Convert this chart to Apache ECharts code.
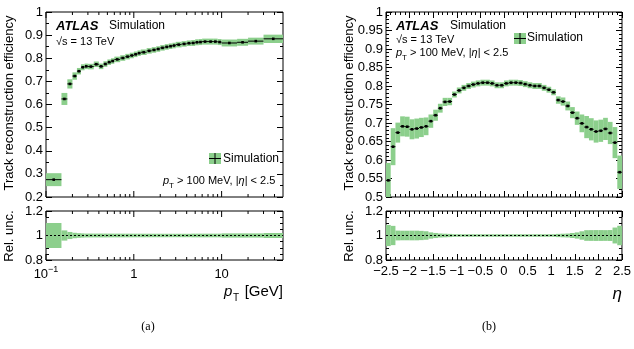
<!DOCTYPE html>
<html>
<head>
<meta charset="utf-8">
<script src="https://cdn.jsdelivr.net/npm/echarts@6/dist/echarts.min.js"></script>
<style>
html, body {margin: 0; padding: 0; background: #fff;}
#main {width: 634px; height: 349px;}
</style>
</head>
<body>
<div id="main"></div>
<script>
// pT binning (GeV) and efficiency
const ptEdges = [0.1, 0.15, 0.175, 0.2, 0.225, 0.25, 0.275, 0.3, 0.35, 0.4, 0.45, 0.5, 0.55, 0.6, 0.7, 0.8, 0.9, 1,
	1.1, 1.2, 1.4, 1.6, 1.8, 2, 2.25, 2.5, 2.75, 3, 3.5, 4, 4.5, 5, 5.5, 6, 7, 8, 9, 10, 15, 20, 30, 50];
const ptEff = [0.275, 0.624, 0.689, 0.723, 0.744, 0.761, 0.765, 0.764, 0.774, 0.765, 0.775, 0.783, 0.788, 0.795,
	0.801, 0.807, 0.812, 0.817, 0.822, 0.826, 0.832, 0.836, 0.840, 0.845, 0.849, 0.852, 0.855, 0.859, 0.862, 0.865,
	0.866, 0.869, 0.870, 0.872, 0.872, 0.872, 0.870, 0.866, 0.869, 0.874, 0.884];
const ptErr = [0.028, 0.026, 0.02, 0.016, 0.014, 0.013, 0.012, 0.012, 0.012, 0.012, 0.012, 0.012, 0.012, 0.012,
	0.012, 0.012, 0.012, 0.012, 0.012, 0.012, 0.012, 0.012, 0.012, 0.012, 0.012, 0.012, 0.012, 0.012, 0.012, 0.012,
	0.013, 0.013, 0.013, 0.013, 0.013, 0.013, 0.013, 0.015, 0.015, 0.015, 0.018];

// eta binning and efficiency
const etaEdges = [-2.5, -2.4, -2.3, -2.2, -2.1, -2, -1.9, -1.8, -1.7, -1.6, -1.5, -1.4, -1.3, -1.2, -1.1, -1,
	-0.9, -0.8, -0.7, -0.6, -0.5, -0.4, -0.3, -0.2, -0.1, 0, 0.1, 0.2, 0.3, 0.4, 0.5, 0.6, 0.7, 0.8, 0.9, 1,
	1.1, 1.2, 1.3, 1.4, 1.5, 1.6, 1.7, 1.8, 1.9, 2, 2.1, 2.2, 2.3, 2.4, 2.5];
const etaEff = [0.545, 0.636, 0.674, 0.691, 0.690, 0.683, 0.685, 0.688, 0.691, 0.705, 0.721, 0.740, 0.757, 0.758,
	0.777, 0.788, 0.795, 0.800, 0.804, 0.807, 0.809, 0.809, 0.807, 0.802, 0.802, 0.807, 0.809, 0.809, 0.808, 0.805,
	0.802, 0.800, 0.800, 0.795, 0.790, 0.783, 0.762, 0.758, 0.746, 0.728, 0.713, 0.699, 0.689, 0.683, 0.677, 0.679,
	0.684, 0.673, 0.647, 0.567];
const etaErr = [0.047, 0.05, 0.027, 0.027, 0.027, 0.027, 0.027, 0.026, 0.024, 0.018, 0.015, 0.012, 0.011, 0.01,
	0.008, 0.008, 0.008, 0.008, 0.008, 0.008, 0.008, 0.008, 0.008, 0.008, 0.008, 0.008, 0.008, 0.008, 0.008, 0.008,
	0.008, 0.008, 0.008, 0.008, 0.008, 0.008, 0.01, 0.011, 0.012, 0.015, 0.018, 0.024, 0.03, 0.03, 0.03, 0.03,
	0.03, 0.03, 0.042, 0.045];

// ticks for the log axis
const logMajor = [0.1, 1, 10];
const logMinor = [0.2, 0.3, 0.4, 0.5, 0.6, 0.7, 0.8, 0.9, 2, 3, 4, 5, 6, 7, 8, 9, 20, 30, 40];

const GREEN = '#8ccf8c';
const FONT = 'Liberation Sans, Arial, sans-serif';

const ptRows = ptEff.map((v, i) => [ptEdges[i], ptEdges[i + 1], v, ptErr[i], Math.sqrt(ptEdges[i] * ptEdges[i + 1])]);
const ptRel = ptEff.map((v, i) => [ptEdges[i], ptEdges[i + 1], 1, ptErr[i] / v, Math.sqrt(ptEdges[i] * ptEdges[i + 1])]);
const etaRows = etaEff.map((v, i) => [etaEdges[i], etaEdges[i + 1], v, etaErr[i], (etaEdges[i] + etaEdges[i + 1]) / 2]);
const etaRel = etaEff.map((v, i) => [etaEdges[i], etaEdges[i + 1], 1, etaErr[i] / v, (etaEdges[i] + etaEdges[i + 1]) / 2]);

function boxItem(params, api) {
	const y = api.value(2), e = api.value(3);
	const p0 = api.coord([api.value(0), y + e]);
	const p1 = api.coord([api.value(1), y - e]);
	const cs = params.coordSys;
	const shape = echarts.graphic.clipRectByRect(
		{x: p0[0], y: p0[1], width: p1[0] - p0[0], height: p1[1] - p0[1]},
		{x: cs.x, y: cs.y, width: cs.width, height: cs.height});
	return shape && {type: 'rect', shape: shape, style: {fill: GREEN}};
}

function pointItem(params, api) {
	const y = api.value(2);
	const a = api.coord([api.value(0), y]);
	const b = api.coord([api.value(1), y]);
	const c = api.coord([api.value(4), y]);
	return {
		type: 'group',
		children: [
			{type: 'line', shape: {x1: a[0], y1: a[1], x2: b[0], y2: b[1]}, style: {stroke: '#000', lineWidth: 1}},
			{type: 'rect', shape: {x: c[0] - 1.3, y: c[1] - 1.3, width: 2.6, height: 2.6}, style: {fill: '#000'}}
		]
	};
}

function unityItem(params, api) {
	const cs = params.coordSys;
	const p = api.coord([api.value(0), api.value(1)]);
	return {
		type: 'line',
		shape: {x1: cs.x, y1: p[1], x2: cs.x + cs.width, y2: p[1]},
		style: {stroke: '#000', lineWidth: 1, lineDash: [2, 2]}
	};
}

function logTickItem(params, api) {
	const cs = params.coordSys;
	const x = api.coord([api.value(0), api.value(2)])[0];
	const len = api.value(1) ? 6 : 3;
	const bottom = cs.y + cs.height;
	return {
		type: 'group',
		children: [
			{type: 'line', shape: {x1: x, y1: bottom, x2: x, y2: bottom - len}, style: {stroke: '#000', lineWidth: 1}},
			{type: 'line', shape: {x1: x, y1: cs.y, x2: x, y2: cs.y + len}, style: {stroke: '#000', lineWidth: 1}}
		]
	};
}

function logTicks(yMin) {
	return logMajor.map(v => [v, 1, yMin]).concat(logMinor.map(v => [v, 0, yMin]));
}

const tickStyle = {inside: true, length: 6, lineStyle: {color: '#000', width: 1}};
const minorStyle = n => ({show: true, splitNumber: n, length: 3, lineStyle: {color: '#000', width: 1}});
const labelStyle = {color: '#000', fontSize: 13, fontFamily: FONT, margin: 3};
const noLine = {show: false, onZero: false};

function valueY(grid, pos, min, max, interval, minorN, showLabel) {
	return {
		type: 'value', gridIndex: grid, position: pos, min: min, max: max, interval: interval,
		axisLine: noLine, splitLine: {show: false},
		axisTick: tickStyle, minorTick: minorStyle(minorN),
		axisLabel: showLabel ? labelStyle : {show: false}
	};
}

function etaX(grid, pos, showLabel) {
	return {
		type: 'value', gridIndex: grid, position: pos, min: -2.5, max: 2.5, interval: 0.5,
		axisLine: noLine, splitLine: {show: false},
		axisTick: tickStyle, minorTick: minorStyle(5),
		axisLabel: showLabel ? Object.assign({}, labelStyle, {
			margin: 5, showMinLabel: true, showMaxLabel: true,
			formatter: v => String(v).replace('-', '\u2212')
		}) : {show: false}
	};
}

function logX(grid, showLabel) {
	return {
		type: 'log', logBase: 10, gridIndex: grid, min: 0.1, max: 50,
		axisLine: noLine, splitLine: {show: false}, axisTick: {show: false},
		axisLabel: showLabel ? {
			color: '#000', fontSize: 13, fontFamily: FONT, margin: 5, showMinLabel: true,
			formatter: v => {
				const l = Math.log10(v);
				if (Math.abs(l - Math.round(l)) > 1e-6) return '';
				const k = Math.round(l);
				if (k < 0) return '{b|10}{s|\u2212' + (-k) + '}';
				return '{b|' + Math.pow(10, k) + '}';
			},
			rich: {
				b: {fontSize: 13, fontFamily: FONT, color: '#000', lineHeight: 18},
				s: {fontSize: 9, fontFamily: FONT, color: '#000', verticalAlign: 'top'}
			}
		} : {show: false}
	};
}

const gridBase = {show: true, borderColor: '#000', borderWidth: 1, backgroundColor: 'transparent'};

function txt(x, y, text, font, extra, rot) {
	return {type: 'text', x: x, y: y, rotation: rot || 0, silent: true, style: Object.assign({
		text: text, font: font, fill: '#000', verticalAlign: 'middle'
	}, extra || {})};
}

const richPt = {
	n: {fontSize: 11, fontFamily: FONT, color: '#000', lineHeight: 18},
	i: {fontSize: 11, fontFamily: FONT, fontStyle: 'italic', color: '#000', lineHeight: 18},
	s: {fontSize: 8, fontFamily: FONT, color: '#000', verticalAlign: 'bottom'}
};
const ptCut = '{i|p}{s|T}{n| > 100 MeV, |}{i|\u03b7}{n|| < 2.5}';

function legendMark(x, y) {
	return [
		{type: 'rect', shape: {x: x, y: y, width: 12, height: 11}, style: {fill: GREEN}},
		{type: 'line', shape: {x1: x, y1: y + 5.5, x2: x + 12, y2: y + 5.5}, style: {stroke: '#000', lineWidth: 1}},
		{type: 'line', shape: {x1: x + 6, y1: y, x2: x + 6, y2: y + 11}, style: {stroke: '#000', lineWidth: 1}}
	];
}

const UP = Math.PI / 2;
const graphics = [
	txt(56, 26, 'ATLAS', 'italic bold 13px ' + FONT),
	txt(109, 26, 'Simulation', '12px ' + FONT),
	txt(56, 42, '\u221as = 13 TeV', '11px ' + FONT),
	...legendMark(209, 153),
	txt(223, 159, 'Simulation', '12px ' + FONT),
	{type: 'text', x: 163, y: 181, silent: true, style: {text: ptCut, rich: richPt, verticalAlign: 'middle'}},
	txt(396, 26, 'ATLAS', 'italic bold 13px ' + FONT),
	txt(450, 26, 'Simulation', '12px ' + FONT),
	txt(396, 40, '\u221as = 13 TeV', '11px ' + FONT),
	{type: 'text', x: 396, y: 53, silent: true, style: {text: ptCut, rich: richPt, verticalAlign: 'middle'}},
	...legendMark(514, 33),
	txt(527, 38, 'Simulation', '12px ' + FONT),
	txt(9, 103, 'Track reconstruction efficiency', '13px ' + FONT, {align: 'center'}, UP),
	txt(349, 103, 'Track reconstruction efficiency', '13px ' + FONT, {align: 'center'}, UP),
	txt(9, 236, 'Rel. unc.', '13px ' + FONT, {align: 'center'}, UP),
	txt(349, 236, 'Rel. unc.', '13px ' + FONT, {align: 'center'}, UP),
	txt(224, 292, 'p', 'italic 15px ' + FONT),
	txt(233, 298, 'T', '10px ' + FONT),
	txt(283, 292, '[GeV]', '15px ' + FONT, {align: 'right'}),
	txt(622, 294, '\u03b7', 'italic 17px ' + FONT, {align: 'right'}),
	txt(148, 327, '(a)', '12px Liberation Serif, serif', {align: 'center'}),
	txt(489, 327, '(b)', '12px Liberation Serif, serif', {align: 'center'})
];

const chart = echarts.init(document.getElementById('main'));
chart.setOption({
	animation: false,
	backgroundColor: '#fff',
	grid: [
		Object.assign({left: 46, top: 12, width: 237, height: 185}, gridBase),
		Object.assign({left: 46, top: 211, width: 237, height: 49}, gridBase),
		Object.assign({left: 386, top: 12, width: 236, height: 185}, gridBase),
		Object.assign({left: 386, top: 211, width: 236, height: 49}, gridBase)
	],
	xAxis: [
		logX(0, false),
		logX(1, true),
		etaX(2, 'bottom', false),
		etaX(2, 'top', false),
		etaX(3, 'bottom', true),
		etaX(3, 'top', false)
	],
	yAxis: [
		valueY(0, 'left', 0.2, 1, 0.1, 2, true),
		valueY(0, 'right', 0.2, 1, 0.1, 2, false),
		valueY(1, 'left', 0.8, 1.2, 0.2, 4, true),
		valueY(1, 'right', 0.8, 1.2, 0.2, 4, false),
		valueY(2, 'left', 0.5, 1, 0.05, 5, true),
		valueY(2, 'right', 0.5, 1, 0.05, 5, false),
		valueY(3, 'left', 0.8, 1.2, 0.2, 4, true),
		valueY(3, 'right', 0.8, 1.2, 0.2, 4, false)
	],
	series: [
		{type: 'custom', xAxisIndex: 0, yAxisIndex: 0, renderItem: boxItem, data: ptRows, encode: {x: [0, 1], y: 2}, z: 1},
		{type: 'custom', xAxisIndex: 0, yAxisIndex: 0, renderItem: pointItem, data: ptRows, encode: {x: [0, 1], y: 2}, z: 3},
		{type: 'custom', xAxisIndex: 0, yAxisIndex: 0, renderItem: logTickItem, data: logTicks(0.2), encode: {x: 0, y: 2}, z: 4},
		{type: 'custom', xAxisIndex: 1, yAxisIndex: 2, renderItem: boxItem, data: ptRel, encode: {x: [0, 1], y: 2}, z: 1},
		{type: 'custom', xAxisIndex: 1, yAxisIndex: 2, renderItem: unityItem, data: [[1, 1]], encode: {x: 0, y: 1}, z: 3},
		{type: 'custom', xAxisIndex: 1, yAxisIndex: 2, renderItem: logTickItem, data: logTicks(0.8), encode: {x: 0, y: 2}, z: 4},
		{type: 'custom', xAxisIndex: 2, yAxisIndex: 4, renderItem: boxItem, data: etaRows, encode: {x: [0, 1], y: 2}, z: 1},
		{type: 'custom', xAxisIndex: 2, yAxisIndex: 4, renderItem: pointItem, data: etaRows, encode: {x: [0, 1], y: 2}, z: 3},
		{type: 'custom', xAxisIndex: 4, yAxisIndex: 6, renderItem: boxItem, data: etaRel, encode: {x: [0, 1], y: 2}, z: 1},
		{type: 'custom', xAxisIndex: 4, yAxisIndex: 6, renderItem: unityItem, data: [[0, 1]], encode: {x: 0, y: 1}, z: 3}
	],
	graphic: graphics
});
</script>
</body>
</html>
